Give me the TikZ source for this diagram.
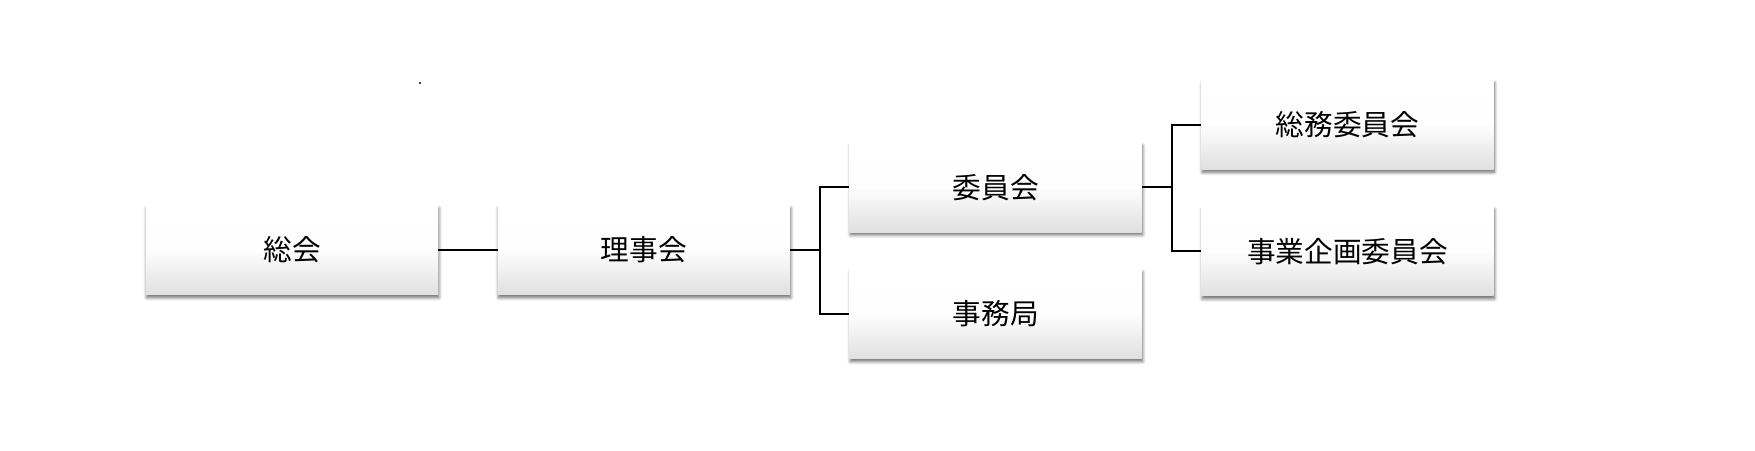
\documentclass[tikz,border=0pt]{standalone}
\usepackage{fontspec}
\newfontfamily\jpfont{Noto Sans CJK JP}
\usepackage{tikz}
\usetikzlibrary{positioning,shadows.blur}
\definecolor{boxbot}{HTML}{E0E0E0}

\begin{document}
\begin{tikzpicture}[orgbox/.style={top color=white,bottom color=boxbot,
 middle color=white!96!boxbot,
 minimum width=219pt,minimum height=67pt,inner sep=0pt,
 font=\jpfont\fontsize{21.5}{24}\selectfont,
 blur shadow={shadow xshift=0.6pt,shadow yshift=-2.2pt,shadow blur steps=6,
 shadow blur radius=2.5pt,shadow opacity=60}},
 link/.style={line width=1.4pt},
 node distance=27.5pt and 44.5pt]
\useasboundingbox (-219pt,-150pt) rectangle (1097.25pt,187.5pt);
\node[orgbox] (soukai) {総会};
\node[orgbox,right=of soukai] (rijikai) {理事会};
\node[orgbox,right=of rijikai,yshift=47pt] (iinkai) {委員会};
\node[orgbox,below=of iinkai] (jimukyoku) {事務局};
\node[orgbox,right=of iinkai,yshift=47pt] (soumu) {総務委員会};
\node[orgbox,below=of soumu] (jigyou) {事業企画委員会};
\draw[link] (soukai)--(rijikai);
\draw[link] (rijikai.east)--++(22.5pt,0) coordinate (fork1);
\draw[link] (fork1)|-(iinkai.west);
\draw[link] (fork1)|-(jimukyoku.west);
\draw[link] (iinkai.east)--++(22.5pt,0) coordinate (fork2);
\draw[link] (fork2)|-(soumu.west);
\draw[link] (fork2)|-(jigyou.west);
\fill (96pt,125.25pt) circle (0.9pt);
\end{tikzpicture}
\end{document}
